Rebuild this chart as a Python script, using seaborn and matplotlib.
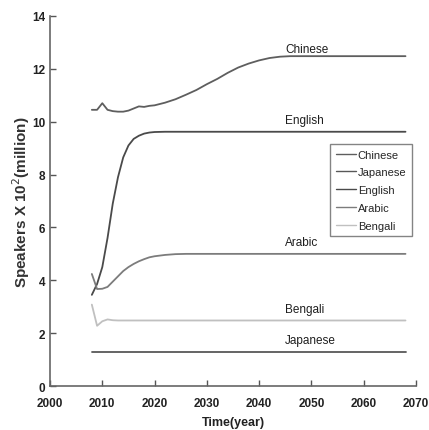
import matplotlib
matplotlib.use("Agg")
import matplotlib.pyplot as plt
import seaborn as sns
import pandas as pd

# Projected number of speakers (x 10^2 million) by year
years = [2008, 2009, 2010, 2011, 2012, 2013, 2014, 2015, 2016, 2017, 2018, 2019, 2020,
         2022, 2024, 2026, 2028, 2030, 2032, 2034, 2036, 2038, 2040, 2042, 2044, 2046,
         2050, 2055, 2060, 2068]
chinese = [10.45, 10.45, 10.70, 10.45, 10.40, 10.38, 10.38, 10.42, 10.50, 10.58, 10.56, 10.60, 10.62,
           10.72, 10.85, 11.02, 11.20, 11.42, 11.62, 11.85, 12.05, 12.20, 12.32, 12.41, 12.46, 12.48,
           12.48, 12.48, 12.48, 12.48]
japanese = [1.28] * 30
english = [3.45, 3.86, 4.50, 5.60, 6.90, 7.90, 8.65, 9.10, 9.35, 9.47, 9.55, 9.59, 9.61,
           9.62, 9.62, 9.62, 9.62, 9.62, 9.62, 9.62, 9.62, 9.62, 9.62, 9.62, 9.62, 9.62,
           9.62, 9.62, 9.62, 9.62]
arabic = [4.24, 3.67, 3.68, 3.75, 3.95, 4.15, 4.35, 4.50, 4.62, 4.72, 4.80, 4.87, 4.91,
          4.96, 4.99, 5.00, 5.00, 5.00, 5.00, 5.00, 5.00, 5.00, 5.00, 5.00, 5.00, 5.00,
          5.00, 5.00, 5.00, 5.00]
bengali = [3.08, 2.28, 2.45, 2.52, 2.49, 2.48, 2.48, 2.48, 2.48, 2.48, 2.48, 2.48, 2.48,
           2.48, 2.48, 2.48, 2.48, 2.48, 2.48, 2.48, 2.48, 2.48, 2.48, 2.48, 2.48, 2.48,
           2.48, 2.48, 2.48, 2.48]

languages = ["Chinese", "Japanese", "English", "Arabic", "Bengali"]
series = {"Chinese": chinese, "Japanese": japanese, "English": english,
          "Arabic": arabic, "Bengali": bengali}
colors = {"Chinese": "#5e5e5e", "Japanese": "#585858", "English": "#4a4a4a",
          "Arabic": "#7c7c7c", "Bengali": "#c0c0c0"}

rows = []
for lang in languages:
    for yr, v in zip(years, series[lang]):
        rows.append({"Year": yr, "Speakers": v, "Language": lang})
df = pd.DataFrame(rows)

sns.set_style("ticks")
plt.rcParams["font.family"] = ["Liberation Sans", "DejaVu Sans"]
plt.rcParams["xtick.direction"] = "in"
plt.rcParams["ytick.direction"] = "in"

fig = plt.figure(figsize=(4.29, 4.31), dpi=100)
ax = fig.add_axes([0.1166, 0.102, 0.853, 0.8586])

sns.lineplot(data=df, x="Year", y="Speakers", hue="Language", hue_order=languages,
             palette=colors, linewidth=1.3, ax=ax, legend=True)

ax.set_xlim(2000, 2070)
ax.set_ylim(0, 14)
ax.set_xticks(range(2000, 2071, 10))
ax.set_yticks(range(0, 15, 2))
ax.tick_params(length=4, width=1, colors="#555555", labelsize=8.5)
ax.tick_params(axis="x", pad=8)
ax.tick_params(axis="y", pad=3.5)
for lab in ax.get_xticklabels() + ax.get_yticklabels():
    lab.set_fontweight("bold")
    lab.set_color("#222222")
for s in ["top", "right"]:
    ax.spines[s].set_visible(False)
for s in ["left", "bottom"]:
    ax.spines[s].set_color("#666666")
    ax.spines[s].set_linewidth(1.2)

ax.set_xlabel("Time(year)", fontsize=9, fontweight="bold", color="#222222", labelpad=5)
ax.set_ylabel("Speakers X 10$^2$(million)", fontsize=11, fontweight="bold",
              color="#333333", labelpad=0)

# Inline labels above each curve
label_offsets = {"Chinese": 0.05, "English": 0.22, "Arabic": 0.22, "Bengali": 0.22, "Japanese": 0.22}
for lang in languages:
    ax.text(2045, series[lang][-1] + label_offsets[lang], lang, ha="left", va="bottom",
            fontsize=8.5, color="#1e1e1e")

handles, labels = ax.get_legend_handles_labels()
leg = ax.legend(handles, labels, loc="upper right", bbox_to_anchor=(0.989, 0.654),
                borderaxespad=0, fontsize=8, frameon=True, fancybox=False, edgecolor="#666666",
                handlelength=1.8, handletextpad=0.2, borderpad=0.5, labelspacing=0.7)
leg.get_frame().set_linewidth(1.0)
for line in leg.get_lines():
    line.set_linewidth(1.0)

fig.savefig("out.png", dpi=100)
